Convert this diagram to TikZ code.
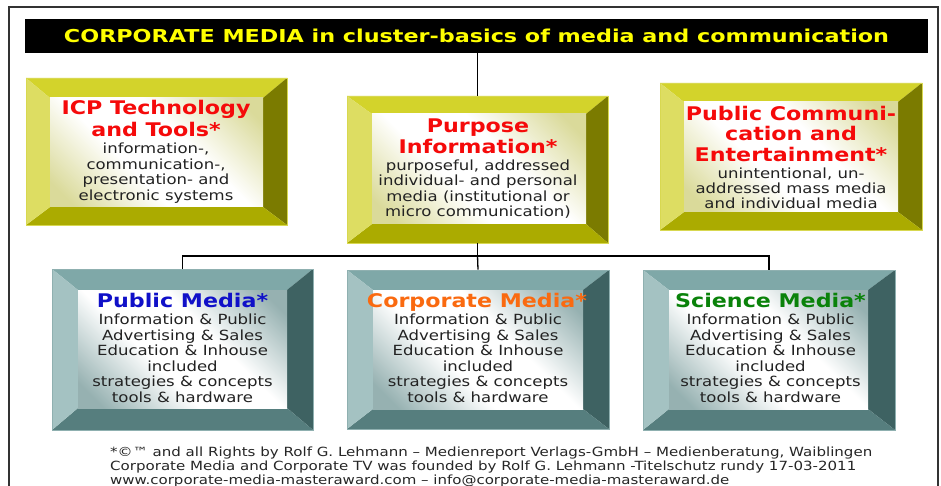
\documentclass[tikz,border=0pt]{standalone}
\usepackage{fontspec}
\usepackage{graphicx}
\usetikzlibrary{fit}
\newfontfamily\dvs{DejaVu Sans}
\newfontfamily\vfont[FakeStretch=1.18]{DejaVu Sans}

\definecolor{yelT}{HTML}{D3D32B}
\definecolor{yelL}{HTML}{DDDD62}
\definecolor{yelR}{HTML}{7B7B00}
\definecolor{yelB}{HTML}{ABAB00}
\definecolor{yelF}{HTML}{DADA9A}
\definecolor{yelO}{HTML}{D8D850}
\definecolor{tealT}{HTML}{7FA8A8}
\definecolor{tealL}{HTML}{A4C2C2}
\definecolor{tealR}{HTML}{3E6262}
\definecolor{tealB}{HTML}{567E7E}
\definecolor{tealF}{HTML}{96B1B1}
\definecolor{tealO}{HTML}{8FB0B0}
\definecolor{bodyC}{HTML}{222222}
\definecolor{frameC}{HTML}{333333}
\definecolor{headRed}{HTML}{F50A0A}
\definecolor{headBlue}{HTML}{1010C8}
\definecolor{headOrange}{HTML}{FA6A10}
\definecolor{headGreen}{HTML}{0A820A}
\definecolor{titleYellow}{HTML}{FFFF00}

\pgfdeclarehorizontalshading{yelface}{100bp}{color(0bp)=(yelF); color(20bp)=(yelF); color(41bp)=(white); color(59bp)=(white); color(80bp)=(yelF); color(100bp)=(yelF)}
\pgfdeclarehorizontalshading{tealface}{100bp}{color(0bp)=(tealF); color(20bp)=(tealF); color(41bp)=(white); color(59bp)=(white); color(80bp)=(tealF); color(100bp)=(tealF)}

\newcommand\bevelbox[7]{%
  \coordinate (#1-o1) at (#3); \coordinate (#1-o2) at (#4);
  \coordinate (#1-i1) at (#5); \coordinate (#1-i2) at (#6);
  \fill[#2T] (#1-o1) -- (#1-o1 -| #1-o2) -- (#1-i1 -| #1-i2) -- (#1-i1) -- cycle;
  \fill[#2R] (#1-o1 -| #1-o2) -- (#1-o2) -- (#1-i2) -- (#1-i1 -| #1-i2) -- cycle;
  \fill[#2B] (#1-o2) -- (#1-o1 |- #1-o2) -- (#1-i1 |- #1-i2) -- (#1-i2) -- cycle;
  \fill[#2L] (#1-o1) -- (#1-i1) -- (#1-i1 |- #1-i2) -- (#1-o1 |- #1-o2) -- cycle;
  \shade[shading=#7, shading angle=45] (#1-i1) rectangle (#1-i2);
  \node[fit=(#1-o1)(#1-o2), inner sep=0pt, draw=#2O, line width=0.6pt] (#1) {};
}

\tikzset{
  head/.style={font=\vfont\bfseries\fontsize{18.8}{21}\selectfont, anchor=base, inner sep=0pt},
  body/.style={font=\vfont\fontsize{14}{15.5}\selectfont, anchor=base, inner sep=0pt, text=bodyC},
  foot/.style={font=\dvs, anchor=base west, inner sep=0pt, text=black!85},
  conn/.style={draw=black, line width=1.3pt},
}

\begin{document}
\begin{tikzpicture}[x=1pt,y=-1pt]
\useasboundingbox (0,0) rectangle (941,486);
\clip (0,0) rectangle (941,486);
\fill[white] (0,0) rectangle (941,486);
\draw[line width=1.4pt, draw=frameC] (9,7) rectangle (938,500);

% title bar
\node[fill=black, minimum width=903pt, minimum height=34pt, inner sep=0pt, text=titleYellow] (title) at (476.5,36)
  {\resizebox{825pt}{13.5pt}{\dvs\bfseries CORPORATE MEDIA in cluster-basics of media and communication}};

% boxes
\bevelbox{b1}{yel}{26,78}{287,225}{50,98}{263,207}{yelface}
\bevelbox{b2}{yel}{347,96}{608,243}{372,114}{586,224}{yelface}
\bevelbox{b3}{yel}{660,83}{922,230}{684,102}{898,212}{yelface}
\bevelbox{b4}{teal}{52,269}{313,430}{78,290}{287,408}{tealface}
\bevelbox{b5}{teal}{347,270}{609,429}{373,290}{583,409}{tealface}
\bevelbox{b6}{teal}{643,270}{895,430}{669,290}{868,409}{tealface}

% connectors
\coordinate (hub) at (477.5,256);
\draw[conn] (title.south -| b2.north) -- (b2.north);
\draw[conn] (b2.south) -- (hub);
\draw[conn] (b4.north) -- (b4.north |- hub) -- (b6.north |- hub) -- (b6.north);
\draw[conn] (hub) -- (b5.north);

% box 1 text
\node[head, text=headRed] (b1h1) at (156,115) {ICP Technology};
\node[head, text=headRed] (b1h2) at (156,136.5) {and Tools*};
\node[body] (b1t1) at (156,154) {information-,};
\node[body] (b1t2) at (156,169.5) {communication-,};
\node[body] (b1t3) at (156,185) {presentation- and};
\node[body] (b1t4) at (156,200.5) {electronic systems};

% box 2 text
\node[head, text=headRed] (b2h1) at (478,133) {Purpose};
\node[head, text=headRed] (b2h2) at (478,154) {Information*};
\node[body] (b2t1) at (478,170.5) {purposeful, addressed};
\node[body] (b2t2) at (478,185.8) {individual- and personal};
\node[body] (b2t3) at (478,201.1) {media (institutional or};
\node[body] (b2t4) at (478,216.4) {micro communication)};

% box 3 text
\node[head, text=headRed] (b3h1) at (791,120.5) {Public Communi-};
\node[head, text=headRed] (b3h2) at (791,141) {cation and};
\node[head, text=headRed] (b3h3) at (791,162) {Entertainment*};
\node[body] (b3t1) at (791,179) {unintentional, un-};
\node[body] (b3t2) at (791,194) {addressed mass media};
\node[body] (b3t3) at (791,209) {and individual media};

% bottom boxes text
\node[head, text=headBlue] (b4h) at (182.5,307.5) {Public Media*};
\node[head, text=headOrange] (b5h) at (477,307.5) {Corporate Media*};
\node[head, text=headGreen] (b6h) at (770.5,307.5) {Science Media*};
\foreach \bx/\cx in {b4/182.5, b5/478, b6/770.5}{
  \node[body] (\bx t1) at (\cx,324.5) {Information \& Public};
  \node[body] (\bx t2) at (\cx,340) {Advertising \& Sales};
  \node[body] (\bx t3) at (\cx,355.5) {Education \& Inhouse};
  \node[body] (\bx t4) at (\cx,371) {included};
  \node[body] (\bx t5) at (\cx,386.5) {strategies \& concepts};
  \node[body] (\bx t6) at (\cx,402) {tools \& hardware};
}

% footer
\node[foot] (f1) at (110,456.5) {\resizebox{762pt}{9.6pt}{*©™ and all Rights by Rolf G. Lehmann – Medienreport Verlags-GmbH – Medienberatung, Waiblingen}};
\node[foot] (f2) at (110,470.5) {\resizebox{746pt}{9.6pt}{Corporate Media and Corporate TV was founded by Rolf G. Lehmann -Titelschutz rundy 17-03-2011}};
\node[foot] (f3) at (110,484.5) {\resizebox{619pt}{9.6pt}{www.corporate-media-masteraward.com – info@corporate-media-masteraward.de}};
\end{tikzpicture}
\end{document}
